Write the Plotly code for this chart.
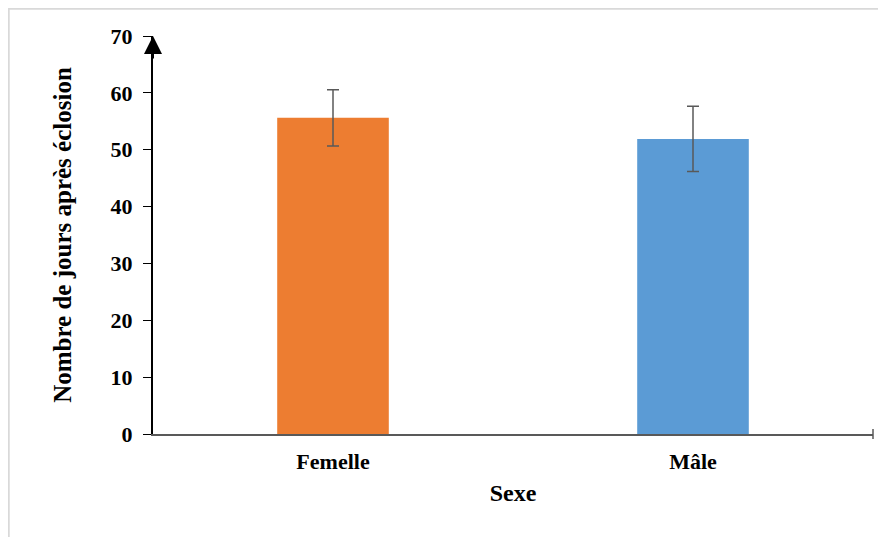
import plotly.graph_objects as go

categories = ["Femelle", "Mâle"]
means = [55.6, 51.9]
errors = [4.95, 5.75]
colors = ["#ED7D31", "#5B9BD5"]
y_ticks = [0, 10, 20, 30, 40, 50, 60, 70]

font_family = "Liberation Serif"

fig = go.Figure()
fig.add_trace(go.Bar(
    x=categories,
    y=means,
    width=0.31,
    marker=dict(color=colors, line=dict(width=0)),
    error_y=dict(type="data", array=errors, visible=True,
                 color="#595959", thickness=1.5, width=6),
    showlegend=False,
))

W, H = 878, 529
L, R, T, B = 145, 13, 28, 103

shapes = [
    # light gray frame (top and left)
    dict(type="line", xref="paper", yref="paper", x0=-L / (W - L - R), x1=1 + R / (W - L - R),
         y0=1 + T / (H - T - B) - 0.002, y1=1 + T / (H - T - B) - 0.002,
         line=dict(color="#d9d9d9", width=2)),
    dict(type="line", xref="paper", yref="paper", x0=-L / (W - L - R) + 0.001, x1=-L / (W - L - R) + 0.001,
         y0=-B / (H - T - B), y1=1 + T / (H - T - B),
         line=dict(color="#d9d9d9", width=2)),
    # end tick on x axis
    dict(type="line", xref="paper", yref="paper", x0=1, x1=1, y0=-5 / (H - T - B), y1=5 / (H - T - B),
         line=dict(color="#595959", width=1.5)),
]

fig.update_layout(
    width=W, height=H,
    margin=dict(l=L, r=R, t=T, b=B),
    paper_bgcolor="white", plot_bgcolor="white",
    font=dict(family=font_family, color="black"),
    shapes=shapes,
    annotations=[
        dict(xref="paper", yref="y", x=0, y=70, ax=0, ay=24, axref="pixel", ayref="pixel",
             showarrow=True, arrowhead=2, arrowsize=1.8, arrowwidth=2, arrowcolor="black", text=""),
    ],
    xaxis=dict(
        showline=True, linecolor="#595959", linewidth=2,
        ticks="", showgrid=False, zeroline=False,
        ticklabelstandoff=7,
        tickfont=dict(size=22, family=font_family, color="black", weight="bold"),
        title=dict(text="<b>Sexe</b>", font=dict(size=24, family=font_family, color="black"), standoff=11),
    ),
    yaxis=dict(
        range=[0, 70], tickvals=y_ticks,
        showline=True, linecolor="black", linewidth=2,
        ticks="outside", ticklen=8, tickcolor="black", tickwidth=1,
        ticklabelstandoff=6,
        showgrid=False, zeroline=False,
        tickfont=dict(size=22, family=font_family, color="black", weight="bold"),
        title=dict(text="<b>Nombre de jours après éclosion</b>",
                   font=dict(size=25, family=font_family, color="black"), standoff=32),
    ),
)

fig.write_html("out.html")
